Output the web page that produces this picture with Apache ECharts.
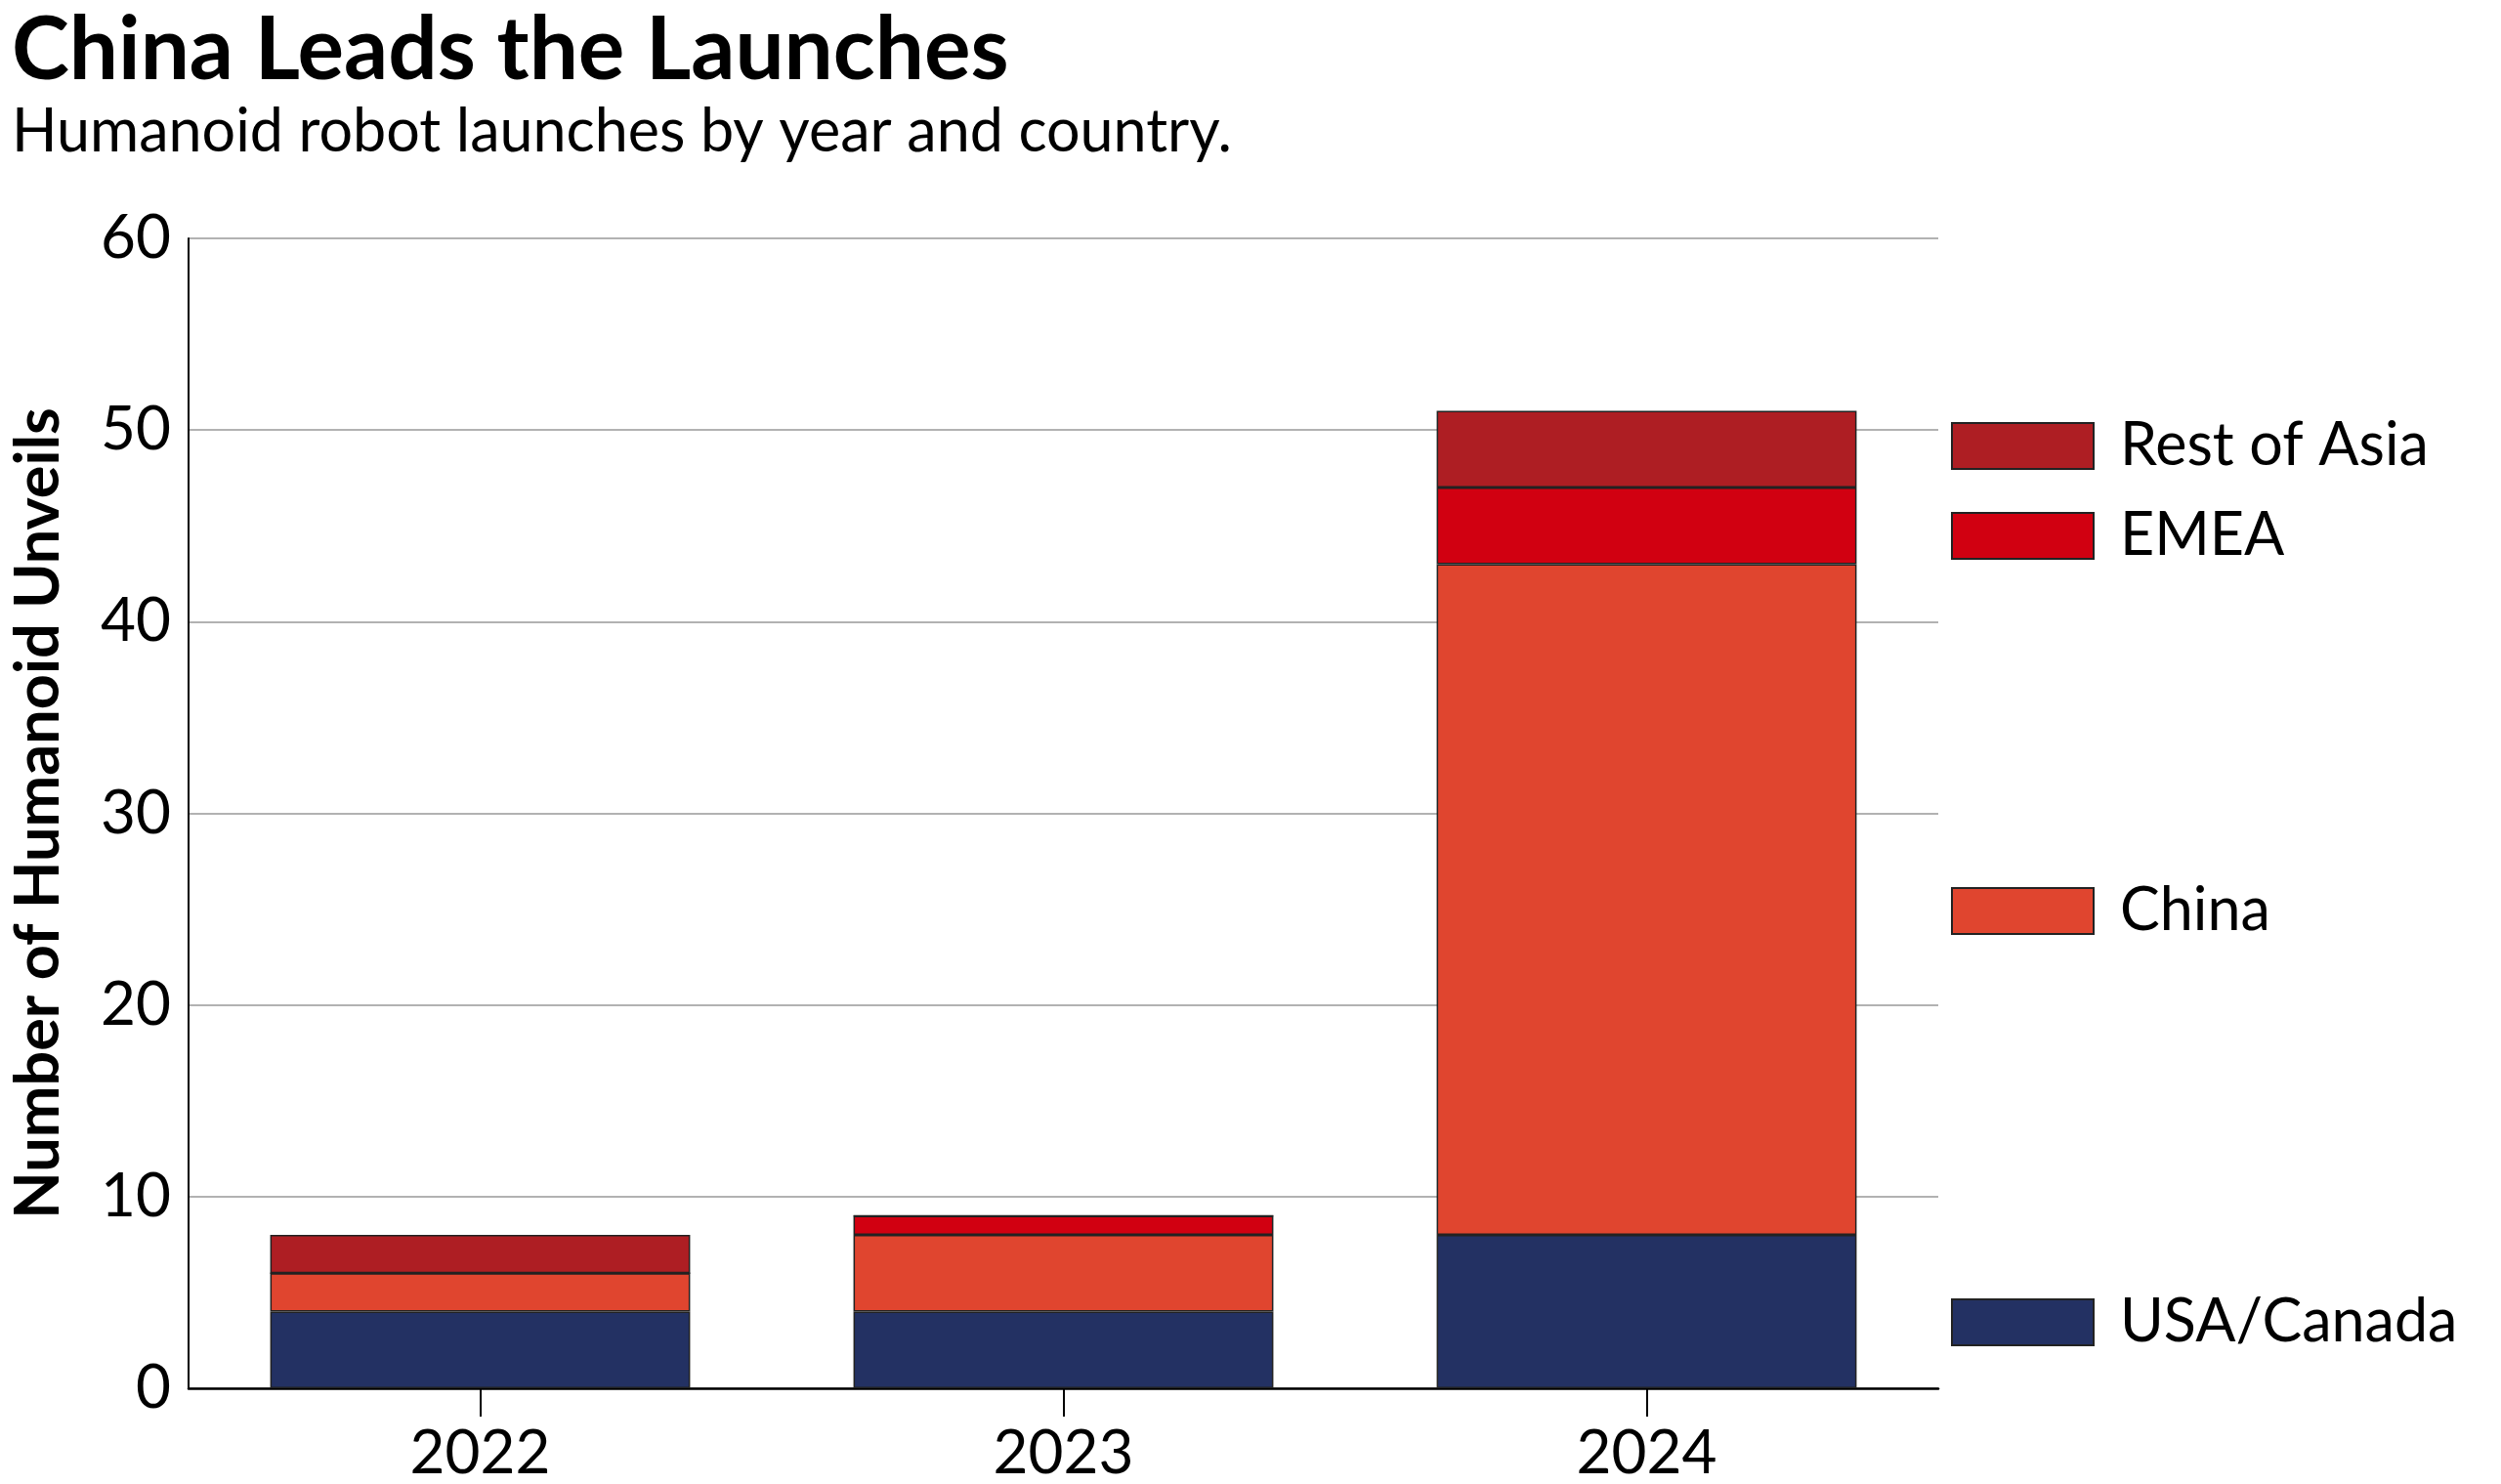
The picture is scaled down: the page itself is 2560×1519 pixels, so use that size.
<!DOCTYPE html>
<html>
<head>
<meta charset="utf-8">
<script src="https://cdn.jsdelivr.net/npm/echarts@6/dist/echarts.min.js"></script>
<style>
html,body{margin:0;padding:0;background:#fff;}
#chart{width:2560px;height:1519px;}
</style>
</head>
<body>
<div id="chart"></div>
<script>
const years = ['2022', '2023', '2024'];
const usaCanada = [4, 4, 8];
const china = [2, 4, 35];
const emea = [0, 1, 4];
const restOfAsia = [2, 0, 4];
const yTicks = [0, 10, 20, 30, 40, 50, 60];

const FONT = 'Lato, "Noto Sans", sans-serif';
const colors = {
  'USA/Canada': '#233163',
  'China': '#E0452F',
  'EMEA': '#D10011',
  'Rest of Asia': '#AE1E23'
};

function mkSeries(name, data) {
  return {
    name: name,
    type: 'bar',
    stack: 'total',
    data: data,
    barCategoryGap: '28%',
    itemStyle: { color: colors[name], borderColor: '#222', borderWidth: 1.5 },
    emphasis: { disabled: true }
  };
}

function mkLegend(name, centerY) {
  return {
    data: [name],
    left: 1997,
    top: centerY - 24,
    padding: 0,
    orient: 'vertical',
    itemWidth: 145,
    itemHeight: 47,
    icon: 'rect',
    selectedMode: false,
    textStyle: { fontFamily: FONT, fontSize: 61, color: '#000', padding: [0, 0, 0, 22] }
  };
}

const chart = echarts.init(document.getElementById('chart'), null, { renderer: 'canvas' });
chart.setOption({
  animation: false,
  backgroundColor: '#fff',
  title: [
    { text: 'China Leads the Launches', left: 12, top: 8, padding: 0,
      textStyle: { fontFamily: FONT, fontWeight: 'bold', fontSize: 89, color: '#000' } },
    { text: 'Humanoid robot launches by year and country.', left: 12, top: 105, padding: 0,
      textStyle: { fontFamily: FONT, fontWeight: 'normal', fontSize: 61, color: '#000' } }
  ],
  legend: [
    mkLegend('Rest of Asia', 450),
    mkLegend('EMEA', 542),
    mkLegend('China', 926),
    mkLegend('USA/Canada', 1347)
  ],
  grid: { left: 186, right: 576, top: 244, bottom: 94, containLabel: false },
  xAxis: {
    type: 'category',
    data: years,
    axisLine: { show: true, lineStyle: { color: '#000', width: 2.5 } },
    axisTick: { show: true, alignWithLabel: true, length: 29, lineStyle: { color: '#000', width: 2 } },
    axisLabel: { fontFamily: FONT, fontSize: 62, color: '#000', margin: 36 }
  },
  yAxis: {
    type: 'value',
    min: yTicks[0],
    max: yTicks[yTicks.length - 1],
    interval: 10,
    name: 'Number of Humanoid Unveils',
    nameLocation: 'middle',
    nameRotate: 90,
    nameGap: 122,
    nameTextStyle: { fontFamily: FONT, fontWeight: 'bold', fontSize: 63, color: '#000' },
    axisLine: { show: true, lineStyle: { color: '#000', width: 2 } },
    axisTick: { show: false },
    axisLabel: { fontFamily: FONT, fontSize: 62, color: '#000', margin: 18 },
    splitLine: { show: true, lineStyle: { color: '#999', width: 1.5 } }
  },
  series: [
    mkSeries('USA/Canada', usaCanada),
    mkSeries('China', china),
    mkSeries('EMEA', emea),
    mkSeries('Rest of Asia', restOfAsia)
  ]
});
</script>
</body>
</html>
